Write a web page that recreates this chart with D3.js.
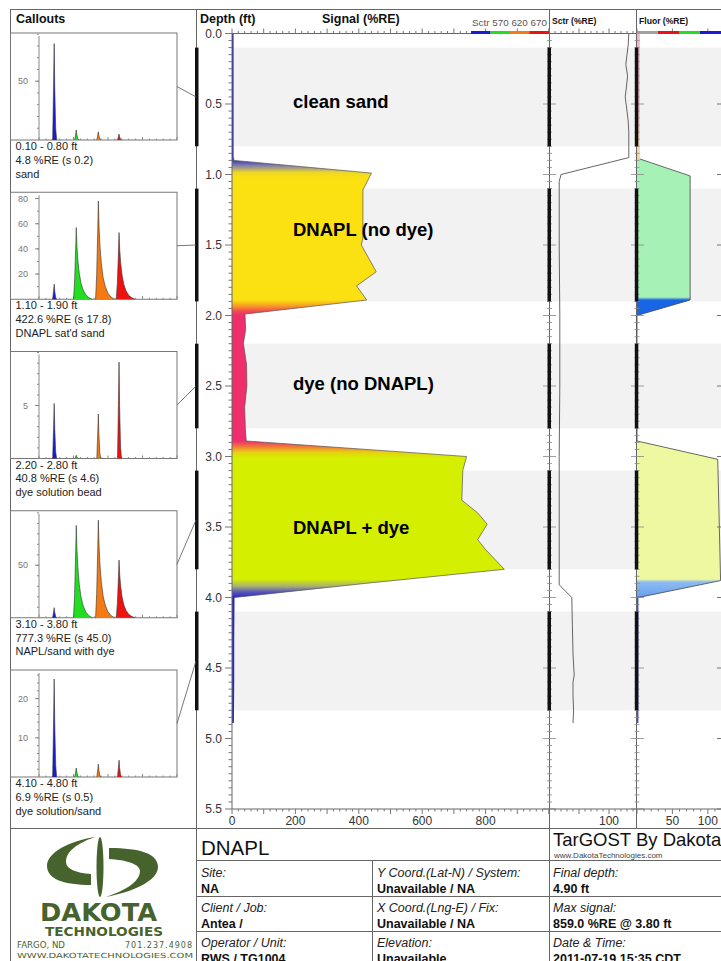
<!DOCTYPE html>
<html><head><meta charset="utf-8">
<script src="https://cdn.jsdelivr.net/npm/d3@7"></script>
<style>
html,body{margin:0;padding:0;background:#fff;}
svg{display:block;font-family:"Liberation Sans",Arial,sans-serif;}
</style></head><body>
<svg id="log" width="721" height="961"></svg>
<script>
// ---- Total fluorescence signal (%RE) versus depth (ft)
const signalDepth = [0.00,0.30,0.60,0.88,0.90,0.99,1.11,1.45,1.50,1.69,1.79,1.89,1.99,2.10,2.20,2.35,2.50,2.65,2.80,2.89,3.00,3.10,3.31,3.40,3.48,3.59,3.66,3.80,3.90,4.00,4.30,4.60,4.89];
const signalValue = [5,5,5,5,6,440,413,413,408,455,393,425,41,43,36,46,47,40,42,45,740,728,725,775,805,775,800,859,420,8,7,7,6];
// waveform-derived colour of the signal fill, by depth
const signalColorDepth = [0.00,0.89,0.94,0.985,1.02,1.89,1.93,1.97,2.00,2.89,2.93,2.97,3.01,3.87,3.92,3.96,4.00,4.89];
const signalColor = ["#2626c8","#2626c8","#8a84a8","#ecd628","#fbe012","#fbe012","#f7a024","#f24a52","#ef2e6e","#ef2e6e","#f2783a","#e6d010","#d4f000","#d4f000","#a8b070","#5a58b8","#2626c8","#2626c8"];

// ---- Scatter channel (%RE)
const sctrDepth = [0.00,0.08,0.15,0.22,0.30,0.38,0.45,0.55,0.62,0.70,0.80,0.88,1.00,1.05,1.50,2.00,2.50,3.00,3.50,3.91,4.00,4.20,4.40,4.55,4.60,4.70,4.80,4.89];
const sctrValue = [133,132,130,128,131,129,127,130,132,133,133,133,20,17,17,18,18,17,17,17,38,39,40,42,40,40,41,40];

// ---- Fluorescence (%RE) and its composition colour
const fluorDepth = [0.00,0.89,1.01,1.89,2.00,2.89,3.02,3.88,4.00,4.89];
const fluorValue = [4,4,75,75,0,0,114,118,2,2];
const fluorColorDepth = [0.00,0.55,0.75,0.885,0.895,1.87,1.89,2.00,2.01,2.89,3.87,3.89,3.99,4.00,4.89];
const fluorColor = ["#f2b4c6","#f2b4c6","#f6d6a6","#f6d6a6","#a6f2b6","#a6f2b6","#1866e6","#1866e6","#eef8a0","#eef8a0","#eef8a0","#8ebcf2","#6aa0ee","#3050d8","#3050d8"];

// ---- Callout intervals and their average waveforms
const calloutFrom = [0.10,1.10,2.20,3.10,4.10];
const calloutTo   = [0.80,1.90,2.80,3.80,4.80];
const calloutMean = [4.8,422.6,40.8,777.3,6.9];
const calloutSd   = [0.2,17.8,4.6,45.0,0.5];
const calloutNote = ["sand","DNAPL sat'd sand","dye solution bead","NAPL/sand with dye","dye solution/sand"];
const calloutYMax = [91,85,10.1,102,27.3];
const calloutYTicks = [[50],[20,40,60,80],[5],[50],[10,20]];
const calloutMinor = [10,10,1,10,2];
const calloutPulse = ["narrow","wide","narrow","wide","narrow"];
const channelName  = ["Sctr","570","620","670"];
const channelColor = ["#1a1ad6","#22dd22","#f57a14","#ee1111"];
const channelTime  = [11,27,43,58];
const peakSctr = [82,12,5.2,9.6,25];
const peak570  = [8.5,57,0.3,88,2.3];
const peak620  = [7,78,4.2,93,3.3];
const peak670  = [5,53,9.1,55,4.3];
// pulse outlines: [time offset, fraction of peak height]
const pulseWide   = [[-2,0],[-1.2,0.25],[-0.4,0.72],[0,1],[0.5,0.74],[1.2,0.54],[2.2,0.36],[3.5,0.22],[5,0.13],[7,0.06],[9,0.025],[11.5,0]];
const pulseNarrow = [[-1.1,0],[-0.4,0.6],[0,1],[0.4,0.55],[1.1,0.12],[1.8,0]];

// ---- Axis ticks
const signalTickLabels = [0,200,400,600,800];
const sctrTickLabels = [100];
const fluorTickLabels = [50,100];
const depthTickLabels = [0.0,0.5,1.0,1.5,2.0,2.5,3.0,3.5,4.0,4.5,5.0,5.5];

// ---- Zone annotations
const zoneText  = ["clean sand","DNAPL (no dye)","dye (no DNAPL)","DNAPL + dye"];
const zoneDepth = [0.48,1.39,2.48,3.50];

// ---- Log header information
const infoLabels = [["Site:","Client / Job:","Operator / Unit:"],["Y Coord.(Lat-N) / System:","X Coord.(Lng-E) / Fix:","Elevation:"],["Final depth:","Max signal:","Date & Time:"]];
const infoValues = [["NA","Antea /","RWS / TG1004"],["Unavailable / NA","Unavailable / NA","Unavailable"],["4.90 ft","859.0 %RE @ 3.80 ft","2011-07-19 15:35 CDT"]];

const svg = d3.select("#log");
const y    = d3.scaleLinear().domain([0, 5.5]).range([33.5, 809]);
const xSig = d3.scaleLinear().domain([0, 1000]).range([232, 549]);
const xSct = d3.scaleLinear().domain([0, 145]).range([549, 636]);
const xFlu = d3.scaleLinear().domain([0, 120]).range([637, 722]);

function ln(x1, y1, x2, y2, c = "#666", w = 1) {
  return svg.append("line").attr("x1", x1).attr("y1", y1).attr("x2", x2).attr("y2", y2)
    .attr("stroke", c).attr("stroke-width", w);
}
function txt(x, yy, s, size, opts = {}) {
  const t = svg.append("text").attr("x", x).attr("y", yy).text(s)
    .attr("font-size", size).attr("fill", opts.fill || "#111");
  if (opts.weight) t.attr("font-weight", opts.weight);
  if (opts.style) t.attr("font-style", opts.style);
  if (opts.anchor) t.attr("text-anchor", opts.anchor);
  if (opts.family) t.attr("font-family", opts.family);
  if (opts.len) t.attr("textLength", opts.len).attr("lengthAdjust", "spacingAndGlyphs");
  return t;
}

// ---- Gray interval bands across the data panels
calloutFrom.forEach((f, i) => {
  svg.append("rect").attr("x", 232).attr("y", y(f)).attr("width", 721 - 232)
    .attr("height", y(calloutTo[i]) - y(f)).attr("fill", "#f2f2f2");
});

// ---- Frame
ln(10, 9.5, 721, 9.5);
ln(10.5, 9, 10.5, 961);
ln(196.5, 9, 196.5, 961);
ln(549.5, 9, 549.5, 961);
ln(636.5, 9, 636.5, 828);
ln(10, 828.5, 721, 828.5);

// ---- Gradients
const defs = svg.append("defs");
function gradient(id, depths, colors) {
  const g = defs.append("linearGradient").attr("id", id).attr("gradientUnits", "userSpaceOnUse")
    .attr("x1", 0).attr("x2", 0).attr("y1", y(0)).attr("y2", y(5.5));
  depths.forEach((d, i) => g.append("stop").attr("offset", d / 5.5).attr("stop-color", colors[i]));
}
gradient("sigGrad", signalColorDepth, signalColor);
gradient("fluGrad", fluorColorDepth, fluorColor);

// ---- Signal panel
const sig = signalDepth.map((d, i) => ({ d, v: signalValue[i] }));
svg.append("path").datum(sig)
  .attr("d", d3.area().y(p => y(p.d)).x0(xSig(0)).x1(p => xSig(p.v)))
  .attr("fill", "url(#sigGrad)");
svg.append("path").datum(sig.filter(p => p.d >= 0.88 && p.d <= 4.0))
  .attr("d", d3.line().y(p => y(p.d)).x(p => xSig(p.v)))
  .attr("fill", "none").attr("stroke", "#555").attr("stroke-width", 0.7);

// ---- Scatter panel
svg.append("path").datum(sctrDepth.map((d, i) => ({ d, v: sctrValue[i] })))
  .attr("d", d3.line().y(p => y(p.d)).x(p => xSct(p.v)))
  .attr("fill", "none").attr("stroke", "#555").attr("stroke-width", 0.9);

// ---- Fluorescence panel
const flu = fluorDepth.map((d, i) => ({ d, v: fluorValue[i] }));
svg.append("path").datum(flu)
  .attr("d", d3.area().y(p => y(p.d)).x0(xFlu(0)).x1(p => xFlu(p.v)))
  .attr("fill", "url(#fluGrad)");
svg.append("path").datum(flu.filter(p => p.d >= 0.89 && p.d <= 4.0))
  .attr("d", d3.line().y(p => y(p.d)).x(p => xFlu(p.v)))
  .attr("fill", "none").attr("stroke", "#444").attr("stroke-width", 0.8);

// ---- Depth axis (left of signal panel) and crossing ticks on the other panels
ln(232, 33.5, 232, 809, "#666");
d3.range(0, 5.5001, 0.05).forEach(d => {
  const major = Math.abs(d / 0.5 - Math.round(d / 0.5)) < 1e-6;
  ln(major ? 225 : 228.5, y(d), 232, y(d), "#777");
  ln(major ? 543 : 547, y(d), major ? 556 : 552, y(d), "#888", 0.8);
  ln(major ? 631 : 634.5, y(d), major ? 644 : 639.5, y(d), "#888", 0.8);
  if (major) ln(717, y(d), 721, y(d), "#777");
});
depthTickLabels.forEach(d => txt(222, y(d) + 4, d.toFixed(1), 12, { anchor: "end", fill: "#333" }));

// ---- Value axes (top and bottom)
function valueAxis(sc, x0, x1, step, majorStep, labels) {
  [33.5, 809].forEach((yy, k) => {
    ln(x0, yy, x1, yy, "#666");
    const dir = k === 0 ? -1 : 1;
    d3.range(sc.domain()[0], sc.domain()[1] + 1e-6, step).forEach(v => {
      const xx = sc(v);
      if (xx > x1 + 0.5) return;
      const big = Math.abs(v / majorStep - Math.round(v / majorStep)) < 1e-6;
      ln(xx, yy, xx, yy + dir * (big ? 5 : 2.5), "#777");
    });
  });
  labels.forEach(v => txt(sc(v), 825, String(v), 12, { anchor: "middle", fill: "#333" }));
}
valueAxis(xSig, 232, 549, 20, 100, signalTickLabels);
valueAxis(xSct, 549, 636, 10, 50, sctrTickLabels);
valueAxis(xFlu, 637, 721, 10, 50, fluorTickLabels);

// ---- Interval bars
calloutFrom.forEach((f, i) => {
  [195, 547.5, 634.8].forEach(x => svg.append("rect").attr("x", x).attr("y", y(f))
    .attr("width", 3.5).attr("height", y(calloutTo[i]) - y(f)).attr("fill", "#111"));
});

// ---- Column headers
txt(16, 23, "Callouts", 12.5, { weight: "bold" });
txt(200, 23, "Depth (ft)", 12.5, { weight: "bold" });
txt(322, 23, "Signal (%RE)", 12.5, { weight: "bold" });
txt(472, 26, channelName.join(" "), 8.6, { fill: "#555", len: 75 });
channelColor.forEach((c, i) => svg.append("rect").attr("x", 471 + i * 19.5).attr("y", 31)
  .attr("width", 19.5).attr("height", 3).attr("fill", c));
txt(552, 24, "Sctr (%RE)", 8.6, { weight: "bold" });
txt(639, 24, "Fluor (%RE)", 8.6, { weight: "bold" });
["#a0a0a0", "#ee1111", "#22dd22", "#1a1ad6"].forEach((c, i) => svg.append("rect")
  .attr("x", 637 + i * 21).attr("y", 31).attr("width", 21).attr("height", 3).attr("fill", c));

// ---- Zone annotations
zoneText.forEach((s, i) => txt(293, y(zoneDepth[i]) + 7, s, 18.5, { weight: "bold", fill: "#000" }));

// ---- Callout waveform boxes
const boxX0 = 10.5, boxX1 = 177, axX = 39, boxH = 107;
const xSpec = d3.scaleLinear().domain([0, 100]).range([axX, boxX1]);
calloutFrom.forEach((f, i) => {
  const top = 33 + i * 159.25, bot = top + boxH;
  const g = svg.append("g");
  g.append("rect").attr("x", boxX0).attr("y", top).attr("width", boxX1 - boxX0).attr("height", boxH)
    .attr("fill", "#fff").attr("stroke", "#777");
  const ys = d3.scaleLinear().domain([0, calloutYMax[i]]).range([bot, top]);
  g.append("line").attr("x1", axX).attr("x2", axX).attr("y1", top + 3).attr("y2", bot).attr("stroke", "#888");
  d3.range(calloutMinor[i], calloutYMax[i], calloutMinor[i]).forEach(v => {
    g.append("line").attr("x1", axX - 2).attr("x2", axX).attr("y1", ys(v)).attr("y2", ys(v)).attr("stroke", "#888");
  });
  calloutYTicks[i].forEach(v => {
    g.append("line").attr("x1", axX - 4).attr("x2", axX).attr("y1", ys(v)).attr("y2", ys(v)).attr("stroke", "#888");
    g.append("text").attr("x", 28).attr("y", ys(v) + 3).attr("text-anchor", "end")
      .attr("font-size", 9).attr("fill", "#777").text(v);
  });
  d3.range(0, 100.01, 5).forEach(v => g.append("line").attr("x1", xSpec(v)).attr("x2", xSpec(v))
    .attr("y1", bot).attr("y2", bot - (v % 25 === 0 ? 3 : 1.5)).attr("stroke", "#888"));
  const heights = [peakSctr[i], peak570[i], peak620[i], peak670[i]];
  heights.forEach((h, c) => {
    const prof = (c === 0 || calloutPulse[i] === "narrow") ? pulseNarrow : pulseWide;
    const pts = prof.map(([o, fr]) => [channelTime[c] + o, h * fr]);
    g.append("path").datum(pts)
      .attr("d", d3.area().x(d => xSpec(d[0])).y0(bot).y1(d => ys(d[1])))
      .attr("fill", channelColor[c]);
    g.append("path").datum(pts)
      .attr("d", d3.line().x(d => xSpec(d[0])).y(d => ys(d[1])))
      .attr("fill", "none").attr("stroke", "#333").attr("stroke-width", 0.6);
  });
  const lines = [`${f.toFixed(2)} - ${calloutTo[i].toFixed(2)} ft`,
                 `${calloutMean[i].toFixed(1)} %RE (s ${calloutSd[i].toFixed(1)})`,
                 calloutNote[i]];
  lines.forEach((s, k) => txt(15.5, bot + 10 + k * 13.8, s, 11, { fill: "#222" }));
  ln(boxX1, top + boxH / 2, 196, y((f + calloutTo[i]) / 2), "#555", 0.8);
});

// ---- Header table
ln(196, 860.5, 721, 860.5);
ln(196, 896.5, 721, 896.5);
ln(196, 931.5, 721, 931.5);
ln(372.5, 860, 372.5, 961);
txt(201, 855, "DNAPL", 20.5, { fill: "#111" });
txt(553, 846, "TarGOST By Dakota", 18.5, { fill: "#111" });
txt(554, 858, "www.DakotaTechnologies.com", 8, { fill: "#444" });
const colX = [201, 377, 553];
infoLabels.forEach((col, c) => col.forEach((s, r) => {
  txt(colX[c], 877 + r * 35, s, 12.5, { style: "italic", fill: "#222" });
  txt(colX[c], 893 + r * 35, infoValues[c][r], 12.5, { weight: "bold", fill: "#111" });
}));

// ---- Company logo
const logo = svg.append("g").attr("fill", "#46632e");
logo.append("path").attr("d", "M95,837 C70,841 47,852 47,866 C47,879 64,885 91,885 L91,874 C76,873 66,869 66,862 C66,851 78,843 95,837 Z");
logo.append("path").attr("d", "M106,897 C132,892 158,881 158,867 C158,854 141,848 109,848 L109,859 C126,860 140,864 140,871 C140,882 124,891 106,897 Z");
logo.append("ellipse").attr("cx", 100).attr("cy", 867).attr("rx", 3.5).attr("ry", 30);
logo.append("text").attr("x", 40).attr("y", 921).attr("font-size", 24).attr("font-weight", "bold")
  .attr("font-family", "DejaVu Sans").attr("textLength", 117).attr("lengthAdjust", "spacingAndGlyphs").text("DAKOTA");
logo.append("text").attr("x", 45).attr("y", 936).attr("font-size", 11.5).attr("font-weight", "bold")
  .attr("font-family", "DejaVu Sans").attr("textLength", 118).attr("lengthAdjust", "spacingAndGlyphs").text("TECHNOLOGIES");
logo.append("text").attr("x", 17).attr("y", 948).attr("font-size", 8).attr("font-family", "DejaVu Sans")
  .attr("textLength", 48).attr("lengthAdjust", "spacingAndGlyphs").text("FARGO, ND");
logo.append("text").attr("x", 193).attr("y", 948).attr("font-size", 8).attr("text-anchor", "end")
  .attr("font-family", "DejaVu Sans").text("701.237.4908").attr("letter-spacing", 1);
logo.append("text").attr("x", 17).attr("y", 958).attr("font-size", 7).attr("font-family", "DejaVu Sans")
  .attr("textLength", 176).attr("lengthAdjust", "spacingAndGlyphs").text("WWW.DAKOTATECHNOLOGIES.COM");
</script></body></html>
